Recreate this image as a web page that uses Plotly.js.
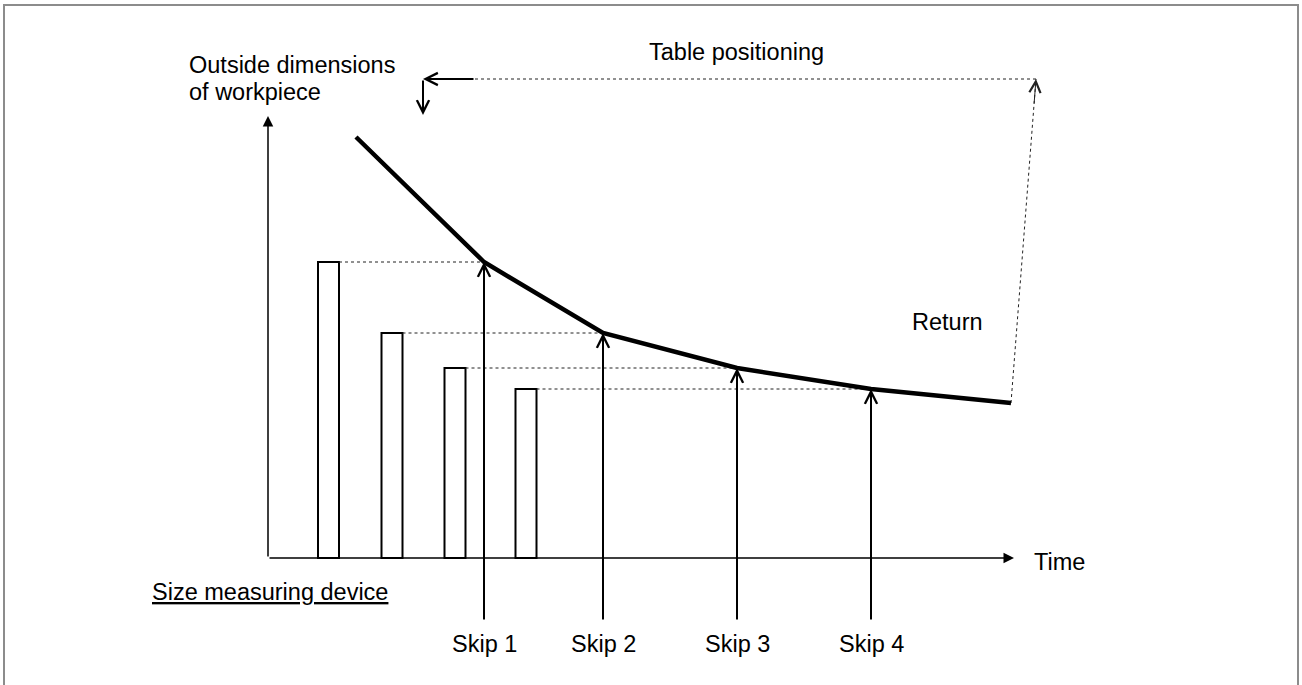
<!DOCTYPE html>
<html>
<head>
<meta charset="utf-8">
<script src="https://cdn.plot.ly/plotly-3.0.1.min.js"></script>
<style>html,body{margin:0;padding:0;background:#fff;}#chart{width:1302px;height:685px;}</style>
</head>
<body>
<div id="chart"></div>
<script>
// ---- Data (time / dimension units, origin at the axes corner) ----
const barTimes = [60.5, 124, 187, 258];
const barHeights = [296, 225, 190, 169];
const barWidth = 21;

const curveTimes = [88, 216, 335, 469, 603, 743];
const curveDims  = [421, 296, 225, 190, 169, 155];

const skipTimes = [216, 335, 469, 603];
const skipDims  = [296, 225, 190, 169];
const skipLabels = ["Skip 1", "Skip 2", "Skip 3", "Skip 4"];
const skipBase = -63;
const skipLabelDim = -86;

const axisTimeEnd = 746;
const axisDimEnd = 442;

const tablePosDim = 479;
const tablePosTip = 155;
const tablePosSolidEnd = 207;
const tablePosDownTip = 443;
const returnTop = [768, 479];

const FONT = {family: "Liberation Sans, Arial, sans-serif", size: 23.5, color: "#000"};

const traces = [];

// bars (size measuring device)
traces.push({
  type: "bar", x: barTimes, y: barHeights, width: barWidth,
  marker: {color: "#fff", line: {color: "#000", width: 2}},
  hoverinfo: "skip", showlegend: false
});

// dotted lines from bar tops to skip points
barTimes.forEach((t, i) => {
  traces.push({
    type: "scatter", mode: "lines",
    x: [t + barWidth / 2, skipTimes[i]], y: [barHeights[i], skipDims[i]],
    line: {color: "#222", width: 1, dash: "dot"},
    hoverinfo: "skip", showlegend: false
  });
});

// table positioning dotted line
traces.push({
  type: "scatter", mode: "lines",
  x: [tablePosSolidEnd, returnTop[0]], y: [tablePosDim, tablePosDim],
  line: {color: "#222", width: 1, dash: "dot"},
  hoverinfo: "skip", showlegend: false
});

// return dotted line
const curveEnd = [curveTimes[curveTimes.length - 1], curveDims[curveDims.length - 1]];
traces.push({
  type: "scatter", mode: "lines",
  x: [curveEnd[0], returnTop[0]], y: [curveEnd[1], returnTop[1]],
  line: {color: "#222", width: 1, dash: "dot"},
  hoverinfo: "skip", showlegend: false
});

// workpiece dimension curve
traces.push({
  type: "scatter", mode: "lines", x: curveTimes, y: curveDims,
  line: {color: "#000", width: 4.5},
  hoverinfo: "skip", showlegend: false
});

const annotations = [];
function arrow(tip, tail, head, width, size, color) {
  annotations.push({
    x: tip[0], y: tip[1], ax: tail[0], ay: tail[1],
    xref: "x", yref: "y", axref: "x", ayref: "y",
    text: "", showarrow: true, arrowhead: head, arrowwidth: width,
    arrowsize: size, arrowcolor: color || "#000", standoff: 0, startstandoff: 0
  });
}
// axes
arrow([axisTimeEnd, 0], [0, 0], 2, 1.5, 1.4);
arrow([0, axisDimEnd], [0, 0], 2, 1.5, 1.4);
// skip arrows
skipTimes.forEach((t, i) => arrow([t, skipDims[i]], [t, skipBase], 5, 2, 1.2));
// table positioning arrows
arrow([tablePosTip, tablePosDim], [tablePosSolidEnd, tablePosDim], 5, 2, 1.2);
arrow([tablePosTip, tablePosDownTip], [tablePosTip, tablePosDim], 5, 2, 1.2);
// return arrowhead
const frac = 0.08;
arrow(returnTop, [returnTop[0] - frac * (returnTop[0] - curveEnd[0]), returnTop[1] - frac * (returnTop[1] - curveEnd[1])], 5, 1, 2.2, "#222");

function label(text, x, y, xanchor) {
  annotations.push({x: x, y: y, xref: "x", yref: "y", text: text, showarrow: false,
    xanchor: xanchor || "center", yanchor: "middle", font: FONT});
}
skipTimes.forEach((t, i) => label(skipLabels[i], t, skipLabelDim));
label("Outside dimensions", -81, 493, "left");
label("of workpiece", -81, 466, "left");
label("Table positioning", 468.5, 506);
label("Return", 679, 236);
label("Time", 764, -4, "left");
label("<u>Size measuring device</u>", -118, -34, "left");

const layout = {
  width: 1302, height: 685,
  margin: {l: 0, r: 0, t: 0, b: 0, pad: 0},
  paper_bgcolor: "#fff", plot_bgcolor: "#fff",
  xaxis: {range: [-268, 1034], visible: false, fixedrange: true},
  yaxis: {range: [-127, 558], visible: false, fixedrange: true},
  showlegend: false, hovermode: false, bargap: 0,
  annotations: annotations,
  shapes: [{type: "rect", xref: "paper", yref: "paper",
    x0: 4 / 1302, x1: 1298 / 1302, y0: -0.02, y1: 1 - 5 / 685,
    line: {color: "#8c8c8c", width: 2}, fillcolor: "rgba(0,0,0,0)"}]
};

Plotly.newPlot("chart", traces, layout, {staticPlot: true, displayModeBar: false});
</script>
</body>
</html>
